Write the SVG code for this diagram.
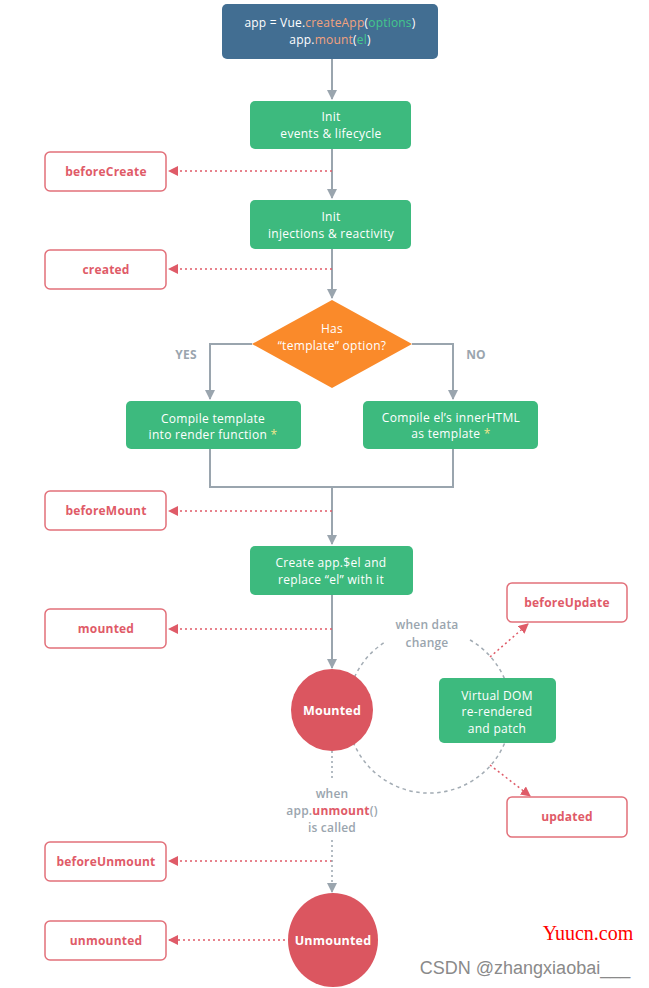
<svg xmlns="http://www.w3.org/2000/svg" width="649" height="988" viewBox="0 0 649 988">
<defs>
<marker id="ag" viewBox="0 0 10 10" refX="9" refY="5" markerWidth="10" markerHeight="10" markerUnits="userSpaceOnUse" orient="auto"><path d="M0,0 L10,5 L0,10 z" fill="#9aa5ae"/></marker>
<marker id="ar" viewBox="0 0 10 10" refX="9" refY="5" markerWidth="10" markerHeight="10" markerUnits="userSpaceOnUse" orient="auto"><path d="M0,0 L10,5 L0,10 z" fill="#df5b68"/></marker>
</defs>
<style>
text{font-family:"Open Sans","Liberation Sans",sans-serif;text-anchor:middle;}
.g{fill:#3dba7e;}
.gt{fill:#fff;font-size:12px;letter-spacing:0.3px;}
.hook{fill:#fff;stroke:#e2707a;stroke-width:1.5;}
.ht{fill:#df5b68;font-size:12px;font-weight:bold;letter-spacing:0.2px;}
.line{stroke:#9aa5ae;stroke-width:2;fill:none;}
.rd{stroke:#df5b68;stroke-width:1.5;stroke-dasharray:2 3;fill:none;}
.gd{stroke:#9aa5ae;stroke-width:1.5;stroke-dasharray:2 3;fill:none;}
.gc{stroke:#a3acb4;stroke-width:1.5;stroke-dasharray:3.5 3.5;fill:none;}
.lab{fill:#9aa5ae;font-size:12px;font-weight:bold;letter-spacing:0.2px;}
.labn{fill:#9aa5ae;font-size:12px;font-weight:600;letter-spacing:0.2px;}
.st{fill:#fff;font-size:12.5px;font-weight:bold;letter-spacing:0.2px;}
</style>
<rect width="649" height="988" fill="#fff"/>
<g id="connectors">
<path class="line" d="M332,59 V99" marker-end="url(#ag)"/>
<path class="line" d="M332,149 V198" marker-end="url(#ag)"/>
<path class="line" d="M332,249 V298" marker-end="url(#ag)"/>
<path class="line" d="M252,344 H210 V399" marker-end="url(#ag)"/>
<path class="line" d="M412,344 H453 V399" marker-end="url(#ag)"/>
<path class="line" d="M210,449 V487 H453 V449"/>
<path class="line" d="M332,487 V544" marker-end="url(#ag)"/>
<path class="line" d="M332,595 V668" marker-end="url(#ag)"/>
<path class="rd" d="M332,171 H169" marker-end="url(#ar)"/>
<path class="rd" d="M332,269 H169" marker-end="url(#ar)"/>
<path class="rd" d="M332,511 H169" marker-end="url(#ar)"/>
<path class="rd" d="M332,629 H169" marker-end="url(#ar)"/>
<path class="rd" d="M332,861 H169" marker-end="url(#ar)"/>
<path class="rd" d="M290,940 H169" marker-end="url(#ar)"/>
<path class="gd" d="M332,751 V780"/>
<path class="gd" d="M332,840 V892" marker-end="url(#ag)"/>
<path class="gc" d="M470,640 A82,82 0 1 1 385,642"/>
<path class="rd" d="M490,657 L528,624" marker-end="url(#ar)"/>
<path class="rd" d="M490,765 L530,796" marker-end="url(#ar)"/>
</g>
<g id="start">
<rect x="222" y="4" width="216" height="55" rx="5" fill="#426e92"/>
<text x="330" y="27" style="font-size:12px;letter-spacing:0.2px" fill="#fff">app = Vue.<tspan fill="#f3a27e">createApp</tspan>(<tspan fill="#42c88c">options</tspan>)</text>
<text x="330" y="44" style="font-size:12px;letter-spacing:0.2px" fill="#fff">app.<tspan fill="#f3a27e">mount</tspan>(<tspan fill="#42c88c">el</tspan>)</text>
</g>
<g id="init-events">
<rect class="g" x="250" y="101" width="161" height="48" rx="5"/>
<text class="gt" x="331" y="121">Init</text>
<text class="gt" x="331" y="138">events &amp; lifecycle</text>
</g>
<g id="beforeCreate"><rect class="hook" x="45" y="152" width="121" height="39" rx="5"/><text class="ht" x="106" y="176">beforeCreate</text></g>
<g id="init-injections">
<rect class="g" x="250" y="200" width="161" height="49" rx="5"/>
<text class="gt" x="331" y="221">Init</text>
<text class="gt" x="331" y="238">injections &amp; reactivity</text>
</g>
<g id="created"><rect class="hook" x="45" y="250" width="121" height="39" rx="5"/><text class="ht" x="106" y="274">created</text></g>
<g id="decision">
<path d="M332,300 L412,344 L332,388 L252,344 Z" fill="#fa8a2a"/>
<text class="gt" x="332" y="333">Has</text>
<text class="gt" x="332" y="350">“template” option?</text>
</g>
<text class="lab" x="186" y="359">YES</text>
<text class="lab" x="476" y="359">NO</text>
<g id="compile-template">
<rect class="g" x="126" y="401" width="175" height="48" rx="5"/>
<text class="gt" x="213" y="423">Compile template</text>
<text class="gt" x="213" y="439">into render function <tspan fill="#f0e68c">*</tspan></text>
</g>
<g id="compile-el">
<rect class="g" x="363" y="401" width="175" height="48" rx="5"/>
<text class="gt" x="451" y="422">Compile el’s innerHTML</text>
<text class="gt" x="451" y="438">as template <tspan fill="#f0e68c">*</tspan></text>
</g>
<g id="beforeMount"><rect class="hook" x="45" y="491" width="121" height="39" rx="5"/><text class="ht" x="106" y="515">beforeMount</text></g>
<g id="create-el">
<rect class="g" x="250" y="546" width="163" height="49" rx="5"/>
<text class="gt" x="331" y="567">Create app.$el and</text>
<text class="gt" x="331" y="584">replace “el” with it</text>
</g>
<g id="mounted-hook"><rect class="hook" x="45" y="609" width="121" height="39" rx="5"/><text class="ht" x="106" y="633">mounted</text></g>
<g id="mounted-state">
<circle cx="332" cy="710" r="41" fill="#db5660"/>
<text class="st" x="332" y="715">Mounted</text>
</g>
<text class="labn" x="427" y="629">when data</text>
<text class="labn" x="427" y="647">change</text>
<g id="vdom">
<rect class="g" x="439" y="678" width="117" height="65" rx="5"/>
<text class="gt" x="497" y="700">Virtual DOM</text>
<text class="gt" x="497" y="716">re-rendered</text>
<text class="gt" x="497" y="733">and patch</text>
</g>
<g id="beforeUpdate"><rect class="hook" x="507" y="583" width="120" height="39" rx="5"/><text class="ht" x="567" y="607">beforeUpdate</text></g>
<g id="updated"><rect class="hook" x="507" y="797" width="120" height="40" rx="5"/><text class="ht" x="567" y="821">updated</text></g>
<text class="labn" x="332" y="798">when</text>
<text class="labn" x="332" y="815">app.<tspan fill="#df5b68" font-weight="bold">unmount</tspan>()</text>
<text class="labn" x="332" y="832">is called</text>
<g id="beforeUnmount"><rect class="hook" x="45" y="842" width="121" height="39" rx="5"/><text class="ht" x="106" y="866">beforeUnmount</text></g>
<g id="unmounted-state">
<ellipse cx="333" cy="940" rx="45" ry="47" fill="#db5660"/>
<text class="st" x="333" y="945">Unmounted</text>
</g>
<g id="unmounted-hook"><rect class="hook" x="45" y="921" width="121" height="39" rx="5"/><text class="ht" x="106" y="945">unmounted</text></g>
<text x="588" y="940" style="font-family:'Liberation Serif',serif;font-size:20px" fill="#ff0000">Yuucn.com</text>
<text x="525" y="974" style="font-family:'Liberation Sans Narrow','Liberation Sans',sans-serif;font-size:18px" fill="#8a8a8a">CSDN @zhangxiaobai___</text>
</svg>
